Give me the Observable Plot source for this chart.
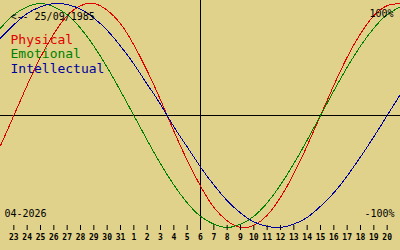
<!DOCTYPE html>
<html><head><meta charset="utf-8">
<script src="https://cdn.jsdelivr.net/npm/d3@7"></script>
<script src="https://cdn.jsdelivr.net/npm/@observablehq/plot@0.6"></script>
<style>
html,body{margin:0;padding:0;background:#e0d28a;}
#chart svg{display:block;}
</style></head><body><div id="chart"></div>
<script>
// Days shown: index 0 = 22 March … index 30 = 21 April 2026
const dayLabels = ["22","23","24","25","26","27","28","29","30","31",
  "1","2","3","4","5","6","7","8","9","10","11","12","13","14","15","16","17","18","19","20","21"];
const tickDays = [1,2,3,4,5,6,7,8,9,10,11,12,13,14,15,16,17,18,19,20,21,22,23,24,25,26,27,28,29];
const todayIndex = 15;
const birthLabel = "<-- 25/09/1985";
const monthLabel = "04-2026";
const topLabel = "100%";
const bottomLabel = "-100%";
const seriesNames = ["Physical", "Emotional", "Intellectual"];
const seriesColors = ["#e00000", "#008000", "#0000a0"];
const physical = [-0.27,0,0.27,0.52,0.73,0.89,0.98,1.00,0.94,0.82,0.63,0.40,0.14,-0.14,-0.40,-0.63,
  -0.82,-0.94,-1.00,-0.98,-0.89,-0.73,-0.52,-0.27,0,0.27,0.52,0.73,0.89,0.98,1.00];
const emotional = [0.78,0.90,0.97,1.00,0.97,0.90,0.78,0.62,0.43,0.22,0,-0.22,-0.43,-0.62,-0.78,-0.90,
  -0.97,-1.00,-0.97,-0.90,-0.78,-0.62,-0.43,-0.22,0,0.22,0.43,0.62,0.78,0.90,0.97];
const intellectual = [0.69,0.81,0.91,0.97,1.00,0.99,0.95,0.87,0.76,0.62,0.46,0.28,0.10,-0.10,-0.28,-0.46,
  -0.62,-0.76,-0.87,-0.95,-0.99,-1.00,-0.97,-0.91,-0.81,-0.69,-0.54,-0.37,-0.19,0,0.19];

const seriesValues = [physical, emotional, intellectual];
const mono = "DejaVu Sans Mono";

const lineMarks = seriesValues.map((vals, s) =>
  Plot.line(vals.map((v, i) => ({day: i, value: v})), {
    x: "day", y: "value", stroke: seriesColors[s], strokeWidth: 1,
    curve: "natural", shapeRendering: "crispEdges"
  }));

const legendMarks = seriesNames.map((name, s) =>
  Plot.text([name], {
    frameAnchor: "top-left", text: d => d, dx: 10, dy: 43 + 14.8 * s,
    textAnchor: "start", lineAnchor: "bottom", fill: seriesColors[s],
    fontSize: 13, fontFamily: mono, fontWeight: "normal"
  }));

const chart = Plot.plot({
  width: 400, height: 250,
  marginTop: 0, marginRight: 0, marginLeft: 0, marginBottom: 25,
  style: {background: "#e0d28a", color: "black", fontFamily: mono, fontSize: "8px"},
  x: {domain: [0, 30], range: [0, 400], label: null},
  y: {domain: [-1, 1], range: [227, 3], axis: null},
  marks: [
    Plot.ruleY([0], {stroke: "black", shapeRendering: "crispEdges"}),
    Plot.ruleX([todayIndex], {stroke: "black", shapeRendering: "crispEdges"}),
    ...lineMarks,
    Plot.axisX(tickDays, {
      anchor: "bottom", tickSize: 5, tickPadding: 4, label: null,
      tickFormat: d => dayLabels[d], fontSize: 8, fontFamily: mono, fontWeight: "bold",
      stroke: "black", fill: "black"
    }),
    Plot.text([birthLabel], {frameAnchor: "top-left", text: d => d, dx: 10, dy: 19,
      textAnchor: "start", lineAnchor: "bottom", fill: "black", fontSize: 10, fontFamily: mono, fontWeight: "normal"}),
    ...legendMarks,
    Plot.text([topLabel], {frameAnchor: "top-right", text: d => d, dx: -7, dy: 16,
      textAnchor: "end", lineAnchor: "bottom", fill: "black", fontSize: 10, fontFamily: mono, fontWeight: "normal"}),
    Plot.text([bottomLabel], {frameAnchor: "top-right", text: d => d, dx: -6, dy: 216,
      textAnchor: "end", lineAnchor: "bottom", fill: "black", fontSize: 10, fontFamily: mono, fontWeight: "normal"}),
    Plot.text([monthLabel], {frameAnchor: "top-left", text: d => d, dx: 4, dy: 216,
      textAnchor: "start", lineAnchor: "bottom", fill: "black", fontSize: 10, fontFamily: mono, fontWeight: "normal"})
  ]
});
document.getElementById("chart").append(chart);
</script>
</body></html>
